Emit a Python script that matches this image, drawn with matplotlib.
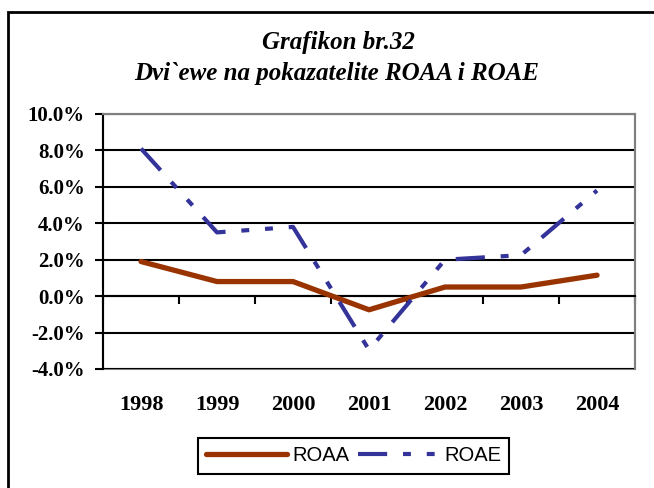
import matplotlib
matplotlib.use('Agg')
import matplotlib.pyplot as plt
from matplotlib.patches import Rectangle
from matplotlib.ticker import FuncFormatter, MultipleLocator

# values (percent)
years = ['1998', '1999', '2000', '2001', '2002', '2003', '2004']
roaa = [1.9, 0.8, 0.8, -0.75, 0.5, 0.5, 1.15]
roae = [8.1, 3.5, 3.8, -2.95, 2.0, 2.25, 5.8]

fig = plt.figure(figsize=(6.54, 4.88), dpi=100)
ax = fig.add_axes([0.1575, 0.2439, 0.8135, 0.5225])

x = list(range(len(years)))
ax.plot(x, roaa, color='#993300', lw=3.8, solid_capstyle='round', label='ROAA', zorder=4)
ax.plot(x, roae, color='#333399', lw=3.0, ls=(0, (7, 3.8, 1.9, 3.8, 1.9, 3.8)),
        dash_capstyle='butt', label='ROAE', zorder=5)

ax.set_xlim(-0.5, 6.5)
ax.set_ylim(-4, 10)

# y axis
ax.yaxis.set_major_locator(MultipleLocator(2))
ax.yaxis.set_major_formatter(FuncFormatter(lambda v, p: '%.1f%%' % v))
ax.grid(axis='y', color='black', lw=1.5, zorder=1)
ax.tick_params(axis='y', direction='out', length=6, width=1.5, pad=7,
               labelsize=15)
for lab in ax.get_yticklabels():
    lab.set_fontfamily('Liberation Serif')
    lab.set_fontweight('bold')

# x axis sits on the zero line, labels hang below the plot
ax.spines['bottom'].set_position(('data', 0))
ax.spines['bottom'].set_color('black')
ax.spines['bottom'].set_linewidth(1.5)
ax.set_xticks(x)
ax.set_xticklabels(years)
ax.set_xticks([i - 0.5 for i in range(len(years) + 1)], minor=True)
ax.tick_params(axis='x', which='major', length=0, pad=71, labelsize=16)
ax.tick_params(axis='x', which='minor', direction='out', length=6, width=1.5)
for lab in ax.get_xticklabels():
    lab.set_fontfamily('Liberation Serif')
    lab.set_fontweight('bold')

ax.spines['left'].set_color('black')
ax.spines['left'].set_linewidth(1.5)
for s in ['top', 'right']:
    ax.spines[s].set_color('#808080')
    ax.spines[s].set_linewidth(1.5)
ax.add_patch(Rectangle((0, 0), 1, 1, transform=ax.transAxes, fill=False,
                       edgecolor='#808080', lw=1.5, clip_on=False, zorder=0))

# titles
fig.text(0.517, 0.912, 'Grafikon br.32', ha='center', va='center',
         family='Liberation Serif', weight='bold', style='italic', fontsize=18)
fig.text(0.515, 0.85, 'Dvi`ewe na pokazatelite ROAA i ROAE', ha='center', va='center',
         family='Liberation Serif', weight='bold', style='italic', fontsize=18)

leg = fig.legend(loc='center', bbox_to_anchor=(0.541, 0.0656), ncol=2,
                 prop={'family': 'Liberation Sans', 'size': 14.5},
                 handlelength=4, handletextpad=0.3, columnspacing=0.4,
                 fancybox=False, framealpha=1, borderpad=0.4)
leg.get_frame().set_edgecolor('black')
leg.get_frame().set_linewidth(1.5)

# outer chart border
fig.patches.append(Rectangle((8 / 654, -0.05), 1.1, 0.05 + 1 - 12 / 488,
                             transform=fig.transFigure, fill=False,
                             edgecolor='black', lw=2))

fig.savefig('out.png', dpi=100)
